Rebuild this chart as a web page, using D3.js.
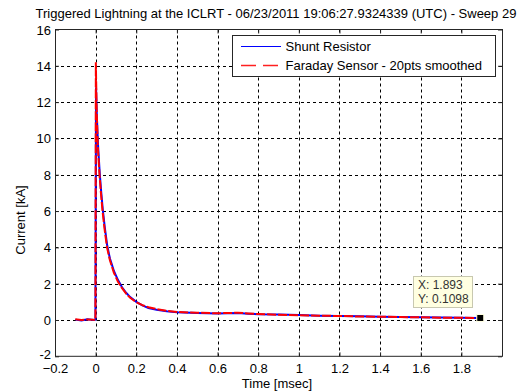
<!DOCTYPE html>
<html><head><meta charset="utf-8">
<script src="https://cdn.jsdelivr.net/npm/d3@7"></script>
<style>
body{margin:0;background:#fff;}
text{font-family:"Liberation Sans",Arial,sans-serif;}
</style></head>
<body><svg id="c" width="523" height="392"></svg>
<script>
const titleText = "Triggered Lightning at the ICLRT - 06/23/2011 19:06:27.9324339 (UTC) - Sweep 29";
const xLabel = "Time [msec]";
const yLabel = "Current [kA]";
const xTicks = [-0.2,0,0.2,0.4,0.6,0.8,1,1.2,1.4,1.6,1.8];
const yTicks = [-2,0,2,4,6,8,10,12,14,16];
const seriesNames = ["Shunt Resistor","Faraday Sensor - 20pts smoothed"];

const shuntT = [-0.1,-0.07,-0.04,-0.01,-0.001,0.002,0.006,0.012,0.02,0.027,0.035,0.045,0.057,0.07,0.09,0.11,0.13,0.15,0.17,0.2,0.23,0.26,0.3,0.35,0.4,0.5,0.6,0.7,0.75,0.8,0.9,1.0,1.1,1.2,1.3,1.4,1.5,1.6,1.7,1.8,1.88];
const shuntI = [0.02,-0.03,0.04,0.0,0.02,12.8,11.2,9.6,8.1,7.1,6.1,5.1,4.1,3.4,2.7,2.2,1.8,1.5,1.26,1.0,0.8,0.66,0.56,0.48,0.43,0.39,0.36,0.38,0.35,0.32,0.3,0.27,0.24,0.22,0.2,0.18,0.17,0.15,0.14,0.12,0.11];
const faradayT = [-0.1,-0.07,-0.04,-0.01,-0.001,0.001,0.005,0.011,0.019,0.026,0.034,0.044,0.056,0.07,0.09,0.11,0.13,0.15,0.17,0.2,0.23,0.26,0.3,0.35,0.4,0.5,0.6,0.7,0.75,0.8,0.9,1.0,1.1,1.2,1.3,1.4,1.5,1.6,1.7,1.8,1.88];
const faradayI = [0.04,0.0,0.03,0.02,0.0,14.2,11.6,9.5,8.0,7.0,6.0,5.0,4.0,3.3,2.6,2.1,1.75,1.45,1.22,0.98,0.82,0.7,0.6,0.5,0.44,0.4,0.37,0.4,0.36,0.33,0.29,0.26,0.24,0.22,0.19,0.18,0.16,0.15,0.13,0.12,0.11];
const tipX = 1.893, tipY = 0.1098;

const FS = "13px";
const svg = d3.select("#c");
const L=55, R=502, T=29.5, B=356.3;
const x = d3.scaleLinear().domain([-0.2,2.0]).range([L,R]);
const y = d3.scaleLinear().domain([-2,16]).range([B,T]);
const axCol = "#262626";

svg.append("rect").attr("x",L).attr("y",T).attr("width",R-L).attr("height",B-T).attr("fill","#fff");

// grid
const g = svg.append("g");
g.selectAll(".gx").data(xTicks.filter(d=>d>-0.2)).join("line")
  .attr("x1",d=>Math.round(x(d))+0.5).attr("x2",d=>Math.round(x(d))+0.5)
  .attr("y1",T).attr("y2",B).attr("stroke","#000").attr("stroke-width",1).attr("stroke-dasharray","3,3");
g.selectAll(".gy").data(yTicks.filter(d=>d>-2&&d<16)).join("line")
  .attr("y1",d=>Math.round(y(d))+0.5).attr("y2",d=>Math.round(y(d))+0.5)
  .attr("x1",L).attr("x2",R).attr("stroke","#000").attr("stroke-width",1).attr("stroke-dasharray","3,3");

// lines
const line = d3.line().x(d=>x(d[0])).y(d=>y(d[1]));
const shunt = shuntT.map((t,i)=>[t,shuntI[i]]);
const faraday = faradayT.map((t,i)=>[t,faradayI[i]]);
svg.append("path").datum(shunt).attr("d",line).attr("fill","none").attr("stroke","#0000ff").attr("stroke-width",2);
svg.append("path").datum(faraday).attr("d",line).attr("fill","none").attr("stroke","#ff0000").attr("stroke-width",2).attr("stroke-dasharray","9,2");

// axes
const xa = d3.axisBottom(x).tickValues(xTicks).tickSize(-4).tickFormat(d=>d3.format("")(+d.toFixed(1)));
const xA = svg.append("g").attr("transform",`translate(0,${B})`).call(xa);
const ya = d3.axisLeft(y).tickValues(yTicks).tickSize(-4).tickFormat(d=>String(d));
const yA = svg.append("g").attr("transform",`translate(${L},0)`).call(ya);
svg.append("g").attr("transform",`translate(0,${T})`).call(d3.axisTop(x).tickValues(xTicks).tickSize(-4).tickFormat(""));
svg.append("g").attr("transform",`translate(${R},0)`).call(d3.axisRight(y).tickValues(yTicks).tickSize(-4).tickFormat(""));
svg.selectAll(".domain").remove();
svg.selectAll(".tick line").attr("stroke",axCol);
svg.selectAll(".tick text").attr("fill","#000").style("font-size",FS).style("font-family","Liberation Sans, Arial, sans-serif");
xA.selectAll(".tick text").attr("dy","0").attr("y",17);
yA.selectAll(".tick text").attr("x",-4).attr("dy","0.35em");
yA.selectAll(".tick text").filter(d=>d===-2).attr("dy","0.2em");
svg.append("rect").attr("x",L+0.5).attr("y",T).attr("width",R-L).attr("height",B-T).attr("fill","none").attr("stroke",axCol).attr("stroke-width",1);

// legend
const lg = svg.append("g");
lg.append("rect").attr("x",232.5).attr("y",35.5).attr("width",263).attr("height",41).attr("fill","#fff").attr("stroke",axCol);
lg.append("line").attr("x1",241).attr("x2",281).attr("y1",46.5).attr("y2",46.5).attr("stroke","#0000ff").attr("stroke-width",1);
lg.append("line").attr("x1",241).attr("x2",281).attr("y1",65.5).attr("y2",65.5).attr("stroke","#ff2020").attr("stroke-width",1.3).attr("stroke-dasharray","15,7");
lg.append("text").attr("x",285.5).attr("y",51).style("font-size",FS).text(seriesNames[0]);
lg.append("text").attr("x",285.5).attr("y",70).style("font-size",FS).text(seriesNames[1]);

// data tip
svg.append("rect").attr("x",x(tipX)-3.5).attr("y",y(tipY)-3.5).attr("width",7).attr("height",7).attr("fill","#000").attr("stroke","#ffffe1").attr("stroke-width",1);
svg.append("rect").attr("x",413.5).attr("y",276.5).attr("width",59).attr("height",31).attr("fill","#ffffe1").attr("stroke","#c8c8b0");
svg.append("text").attr("x",418).attr("y",289).style("font-size","12px").attr("fill","#333").text("X: " + tipX);
svg.append("text").attr("x",418).attr("y",303).style("font-size","12px").attr("fill","#333").text("Y: " + tipY);

// titles
svg.append("text").attr("x",276).attr("y",18).attr("text-anchor","middle").style("font-size",FS).text(titleText);
svg.append("text").attr("x",277).attr("y",388).attr("text-anchor","middle").style("font-size",FS).text(xLabel);
svg.append("text").attr("transform","translate(25,220) rotate(-90)").attr("text-anchor","middle").style("font-size",FS).text(yLabel);
</script></body></html>
